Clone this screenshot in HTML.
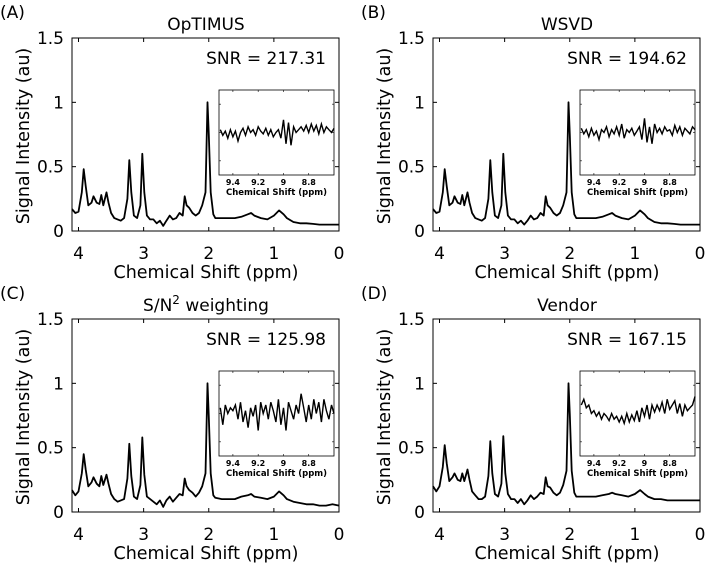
<!DOCTYPE html>
<html><head><meta charset="utf-8"><style>
html,body{margin:0;padding:0;background:#fff;}
svg{display:block;font-family:"DejaVu Sans","Liberation Sans",sans-serif;}
</style></head><body>
<svg id="fig" width="709" height="564" viewBox="0 0 709 564" xmlns="http://www.w3.org/2000/svg"></svg>
<script>
// ---- data ----
const ppm = [4.1,4.05,4.0,3.95,3.92,3.89,3.85,3.8,3.77,3.72,3.68,3.65,3.62,3.57,3.54,3.5,3.45,3.4,3.35,3.3,3.25,3.22,3.19,3.15,3.1,3.05,3.02,2.99,2.95,2.9,2.85,2.8,2.75,2.7,2.65,2.6,2.55,2.5,2.45,2.4,2.37,2.34,2.3,2.25,2.2,2.15,2.1,2.05,2.02,2.0,1.97,1.93,1.9,1.8,1.7,1.6,1.5,1.4,1.35,1.3,1.2,1.1,1.0,0.92,0.85,0.8,0.7,0.6,0.5,0.4,0.3,0.2,0.1,0.0];
const specA = [0.17,0.14,0.15,0.3,0.48,0.35,0.2,0.22,0.27,0.22,0.21,0.28,0.2,0.3,0.22,0.14,0.1,0.09,0.08,0.1,0.25,0.55,0.3,0.12,0.1,0.2,0.6,0.3,0.12,0.09,0.09,0.06,0.08,0.04,0.08,0.12,0.09,0.1,0.14,0.12,0.27,0.2,0.18,0.14,0.12,0.14,0.2,0.3,1.0,0.75,0.3,0.13,0.1,0.1,0.1,0.1,0.11,0.13,0.14,0.12,0.1,0.09,0.12,0.16,0.13,0.1,0.07,0.06,0.06,0.055,0.05,0.05,0.05,0.05];
const specB = [0.17,0.14,0.15,0.3,0.48,0.35,0.2,0.22,0.27,0.22,0.21,0.28,0.2,0.3,0.22,0.14,0.1,0.09,0.08,0.1,0.25,0.55,0.3,0.12,0.1,0.2,0.6,0.3,0.12,0.09,0.09,0.06,0.08,0.05,0.08,0.12,0.09,0.1,0.14,0.12,0.27,0.2,0.18,0.14,0.12,0.14,0.2,0.3,1.0,0.75,0.3,0.13,0.1,0.1,0.1,0.1,0.11,0.13,0.14,0.12,0.1,0.09,0.12,0.16,0.13,0.1,0.07,0.06,0.06,0.055,0.05,0.05,0.05,0.05];
const specC = [0.17,0.13,0.16,0.3,0.45,0.33,0.2,0.23,0.27,0.22,0.2,0.28,0.21,0.29,0.22,0.14,0.1,0.08,0.09,0.1,0.26,0.53,0.28,0.12,0.1,0.21,0.58,0.29,0.12,0.1,0.08,0.06,0.09,0.04,0.09,0.12,0.08,0.11,0.14,0.13,0.26,0.2,0.17,0.15,0.12,0.15,0.2,0.3,1.0,0.74,0.3,0.13,0.11,0.1,0.1,0.1,0.12,0.13,0.14,0.12,0.11,0.1,0.12,0.16,0.13,0.1,0.08,0.07,0.06,0.06,0.05,0.05,0.06,0.05];
const specD = [0.2,0.16,0.2,0.35,0.52,0.38,0.24,0.27,0.3,0.25,0.24,0.3,0.24,0.33,0.25,0.16,0.13,0.1,0.1,0.12,0.28,0.55,0.3,0.14,0.12,0.22,0.59,0.3,0.14,0.1,0.1,0.07,0.1,0.06,0.09,0.13,0.1,0.12,0.15,0.14,0.27,0.2,0.19,0.15,0.13,0.15,0.21,0.32,1.0,0.76,0.32,0.15,0.12,0.12,0.12,0.12,0.13,0.14,0.15,0.14,0.13,0.12,0.14,0.17,0.14,0.12,0.1,0.1,0.09,0.09,0.09,0.09,0.09,0.09];
const insPpm = [9.5,9.48,9.46,9.44,9.42,9.4,9.38,9.36,9.34,9.32,9.3,9.28,9.26,9.24,9.22,9.2,9.18,9.16,9.14,9.12,9.1,9.08,9.06,9.04,9.02,9.0,8.98,8.96,8.94,8.92,8.9,8.88,8.86,8.84,8.82,8.8,8.78,8.76,8.74,8.72,8.7,8.68,8.66,8.64,8.62,8.6];
const insA = [0.1,-0.1,0.05,-0.2,0.1,-0.15,0.05,-0.3,0.0,0.15,-0.1,0.2,0.0,0.1,-0.1,0.2,0.05,-0.05,0.15,-0.1,0.1,-0.15,0.0,0.1,-0.2,0.45,-0.4,0.35,-0.45,0.2,0.0,0.1,0.2,0.05,0.25,0.0,0.3,0.05,0.25,-0.05,0.3,0.0,0.2,0.1,0.0,0.15];
const insB = [0.15,-0.05,0.1,-0.15,0.15,-0.1,0.05,-0.25,0.1,0.0,0.2,-0.15,0.1,-0.05,0.2,-0.1,0.3,-0.2,0.1,0.0,0.15,-0.1,0.05,0.2,-0.25,0.5,-0.35,0.2,-0.4,0.3,0.0,0.15,-0.05,0.2,0.05,0.1,-0.1,0.25,0.0,0.2,-0.1,0.15,0.05,-0.05,0.2,0.1];
const insC = [0.2,-0.4,0.3,0.0,0.2,0.1,0.3,-0.2,0.4,-0.3,0.1,-0.5,0.2,-0.1,0.3,-0.6,0.4,0.0,0.3,-0.2,0.4,0.1,-0.3,0.5,-0.4,0.2,-0.6,0.4,0.1,-0.2,0.3,0.0,0.7,0.2,-0.3,0.3,-0.2,0.5,0.0,0.4,-0.3,0.5,0.1,-0.2,0.3,0.0];
const insD = [0.3,0.5,0.2,0.3,0.0,0.1,-0.1,0.05,-0.2,0.0,-0.1,-0.25,0.0,-0.2,-0.1,-0.3,-0.1,-0.35,0.0,-0.3,-0.05,-0.25,0.1,-0.3,0.2,-0.1,0.3,-0.2,0.3,0.05,0.3,0.1,0.4,0.0,0.5,0.15,0.3,0.45,0.0,0.35,-0.1,0.3,0.1,0.2,0.3,0.6];
const yTicks = [0,0.5,1,1.5];
const yTickLabels = ["0","0.5","1","1.5"];
const xTicks = [4,3,2,1,0];
const insTicks = [9.4,9.2,9.0,8.8];
const insTickLabels = ["9.4","9.2","9","8.8"];
const panelLetters = ["(A)","(B)","(C)","(D)"];
const titles = ["OpTIMUS","WSVD","S/N2 weighting","Vendor"];
const snrs = ["217.31","194.62","125.98","167.15"];

// ---- drawing ----
const NS="http://www.w3.org/2000/svg";
const fig=document.getElementById('fig');
function mk(tag,attrs,parent,text){const e=document.createElementNS(NS,tag);for(const k in attrs)e.setAttribute(k,attrs[k]);if(text!==undefined)e.textContent=text;parent.appendChild(e);return e;}
const X0=72,X1=339,Y0=38,Y1=231;
const xS=p=>X0+(4.1-p)/4.1*(X1-X0);
const yS=v=>Y1-v/1.5*(Y1-Y0);
const IX0=219,IX1=334,IY0=90,IY1=175;
const ixS=p=>IX0+(9.51-p)/(9.51-8.6)*(IX1-IX0);
const iyS=v=>(IY0+IY1)/2-v/1.5*(IY1-IY0)/2;
const offsets=[[0,0],[361,0],[0,281],[361,281]];
const specs=[specA,specB,specC,specD];
const ins=[insA,insB,insC,insD];
offsets.forEach((o,i)=>{
  const g=mk('g',{transform:`translate(${o[0]},${o[1]})`},fig);
  
  
  const lt=mk('text',{x:0,y:18,'font-size':17},g,panelLetters[i]);
  
  
  const tt=mk('text',{x:206,y:30,'font-size':17,'text-anchor':'middle'},g);
  
  
  if(i===2){tt.textContent='S/N';mk('tspan',{'font-size':12,dy:-7},tt,'2');mk('tspan',{dy:7},tt,' weighting');}
  else tt.textContent=titles[i];
  const ax=mk('rect',{x:X0,y:Y0,width:X1-X0,height:Y1-Y0,fill:'none',stroke:'#000','stroke-width':1},g);
  
  
  yTicks.forEach((v,k)=>{
    mk('line',{x1:X0,x2:X0+4,y1:yS(v),y2:yS(v),stroke:'#000'},g);
    mk('line',{x1:X1,x2:X1-4,y1:yS(v),y2:yS(v),stroke:'#000'},g);
    const t=mk('text',{x:64,y:yS(v)+6,'font-size':17,'text-anchor':'end'},g,yTickLabels[k]);
    
    
  });
  xTicks.forEach(p=>{
    mk('line',{x1:xS(p),x2:xS(p),y1:Y1,y2:Y1-4,stroke:'#000'},g);
    mk('line',{x1:xS(p),x2:xS(p),y1:Y0,y2:Y0+4,stroke:'#000'},g);
    const t=mk('text',{x:xS(p),y:259,'font-size':17,'text-anchor':'middle'},g,String(p));
    
    
  });
  const xl=mk('text',{x:206,y:278,'font-size':17.5,'text-anchor':'middle'},g,'Chemical Shift (ppm)');
  
  
  const yl=mk('text',{x:0,y:0,'font-size':17.5,'text-anchor':'middle',transform:'translate(29,136) rotate(-90)'},g,'Signal Intensity (au)');
  
  
  const line=mk('polyline',{points:ppm.map((p,k)=>xS(p).toFixed(1)+','+yS(specs[i][k]).toFixed(1)).join(' '),fill:'none',stroke:'#000','stroke-width':1.8,'stroke-linejoin':'round'},g);
  
  
  const snr=mk('text',{x:326,y:64,'font-size':17,'text-anchor':'end'},g,'SNR = '+snrs[i]);
  
  
  const ib=mk('rect',{x:IX0,y:IY0,width:IX1-IX0,height:IY1-IY0,fill:'#fff',stroke:'#000','stroke-width':0.8},g);
  
  
  insTicks.forEach((p,k)=>{
    mk('line',{x1:ixS(p),x2:ixS(p),y1:IY1,y2:IY1-2,stroke:'#000','stroke-width':0.6},g);
    mk('line',{x1:ixS(p),x2:ixS(p),y1:IY0,y2:IY0+2,stroke:'#000','stroke-width':0.6},g);
    const t=mk('text',{x:ixS(p),y:185,'font-size':8,'font-weight':'bold','text-anchor':'middle'},g,insTickLabels[k]);
    
    
  });
  [-1,0,1].forEach(v=>{
    mk('line',{x1:IX0,x2:IX0+2,y1:iyS(v),y2:iyS(v),stroke:'#000','stroke-width':0.6},g);
    mk('line',{x1:IX1,x2:IX1-2,y1:iyS(v),y2:iyS(v),stroke:'#000','stroke-width':0.6},g);
  });
  const il=mk('text',{x:(IX0+IX1)/2,y:195,'font-size':8.5,'font-weight':'bold','text-anchor':'middle'},g,'Chemical Shift (ppm)');
  
  
  const nl=mk('polyline',{points:insPpm.map((p,k)=>ixS(p).toFixed(1)+','+iyS(ins[i][k]).toFixed(1)).join(' '),fill:'none',stroke:'#000','stroke-width':1.4},g);
  
  
});
</script>
</body></html>
